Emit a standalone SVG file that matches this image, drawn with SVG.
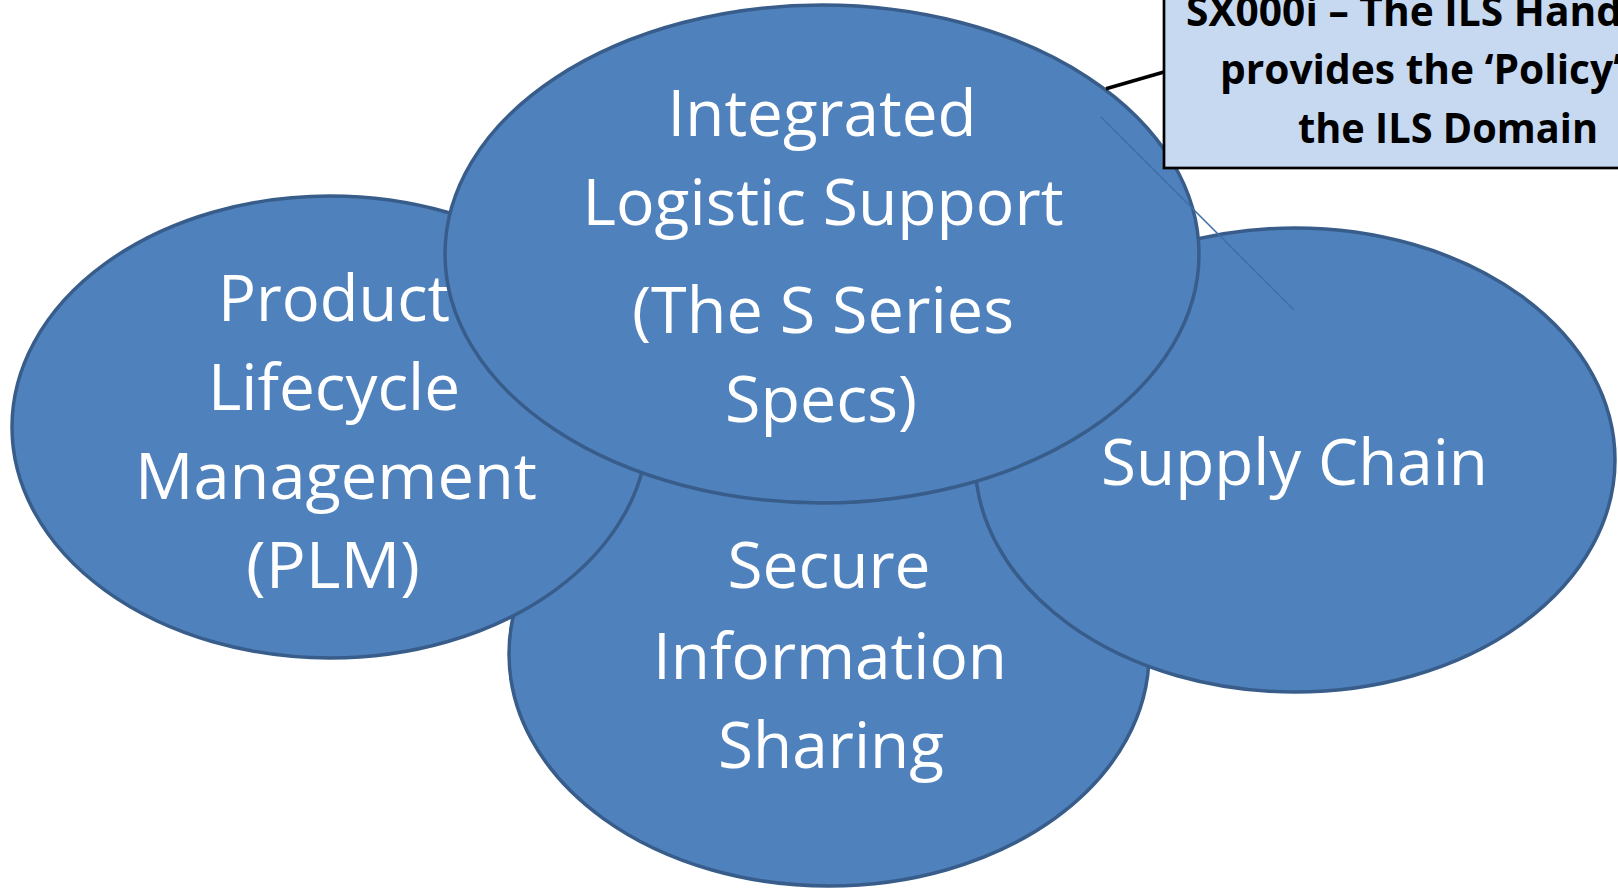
<svg xmlns="http://www.w3.org/2000/svg" width="1618" height="889" viewBox="0 0 1618 889">
<style>
.node{fill:#4F81BD;stroke:#385D8A;stroke-width:3.5}
.lbl{font-family:"Open Sans","Liberation Sans",sans-serif;font-size:64px;fill:#FFFFFF;text-anchor:middle}
.call{font-family:"Open Sans","Liberation Sans",sans-serif;font-size:42px;font-weight:bold;fill:#000000}
.box{fill:#C6D9F1;stroke:#000000;stroke-width:2.7}
</style>
<rect width="1618" height="889" fill="#FFFFFF"/>
<g id="node-secure">
<ellipse class="node" cx="829" cy="654" rx="320" ry="232"/>
<text class="lbl" x="829" y="588" textLength="203" lengthAdjust="spacingAndGlyphs">Secure</text>
<text class="lbl" x="830" y="679" textLength="354" lengthAdjust="spacingAndGlyphs">Information</text>
<text class="lbl" x="831" y="768" textLength="226" lengthAdjust="spacingAndGlyphs">Sharing</text>
</g>
<g id="node-plm">
<ellipse class="node" cx="330" cy="427" rx="318" ry="231"/>
<text class="lbl" x="334" y="321" textLength="232" lengthAdjust="spacingAndGlyphs">Product</text>
<text class="lbl" x="334" y="410" textLength="252" lengthAdjust="spacingAndGlyphs">Lifecycle</text>
<text class="lbl" x="336" y="499" textLength="402" lengthAdjust="spacingAndGlyphs">Management</text>
<text class="lbl" x="333" y="588" textLength="174" lengthAdjust="spacingAndGlyphs">(PLM)</text>
</g>
<g id="node-supply">
<ellipse class="node" cx="1295" cy="460" rx="320" ry="232"/>
<text class="lbl" x="1294.5" y="485" textLength="387" lengthAdjust="spacingAndGlyphs">Supply Chain</text>
</g>
<g id="node-ils">
<ellipse class="node" cx="822" cy="254" rx="377" ry="249"/>
<text class="lbl" x="822" y="136" textLength="309" lengthAdjust="spacingAndGlyphs">Integrated</text>
<text class="lbl" x="823" y="225" textLength="481" lengthAdjust="spacingAndGlyphs">Logistic Support</text>
<text class="lbl" x="823" y="333" textLength="382" lengthAdjust="spacingAndGlyphs">(The S Series</text>
<text class="lbl" x="821" y="422" textLength="192" lengthAdjust="spacingAndGlyphs">Specs)</text>
</g>
<g id="connectors">
<line x1="1164" y1="72" x2="1106" y2="88.7" stroke="#000000" stroke-width="3.5"/>
<line x1="1101" y1="117" x2="1294" y2="310" stroke="#3F6FAA" stroke-width="1.5"/>
</g>
<g id="callout-sx000i">
<rect class="box" x="1164" y="-10" width="540" height="178"/>
<text class="call" x="1186" y="26" textLength="436" lengthAdjust="spacingAndGlyphs">SX000i – The ILS Hand</text>
<text class="call" x="1220" y="84" textLength="402" lengthAdjust="spacingAndGlyphs">provides the ‘Policy’</text>
<text class="call" x="1298" y="143" textLength="300" lengthAdjust="spacingAndGlyphs">the ILS Domain</text>
</g>
</svg>
